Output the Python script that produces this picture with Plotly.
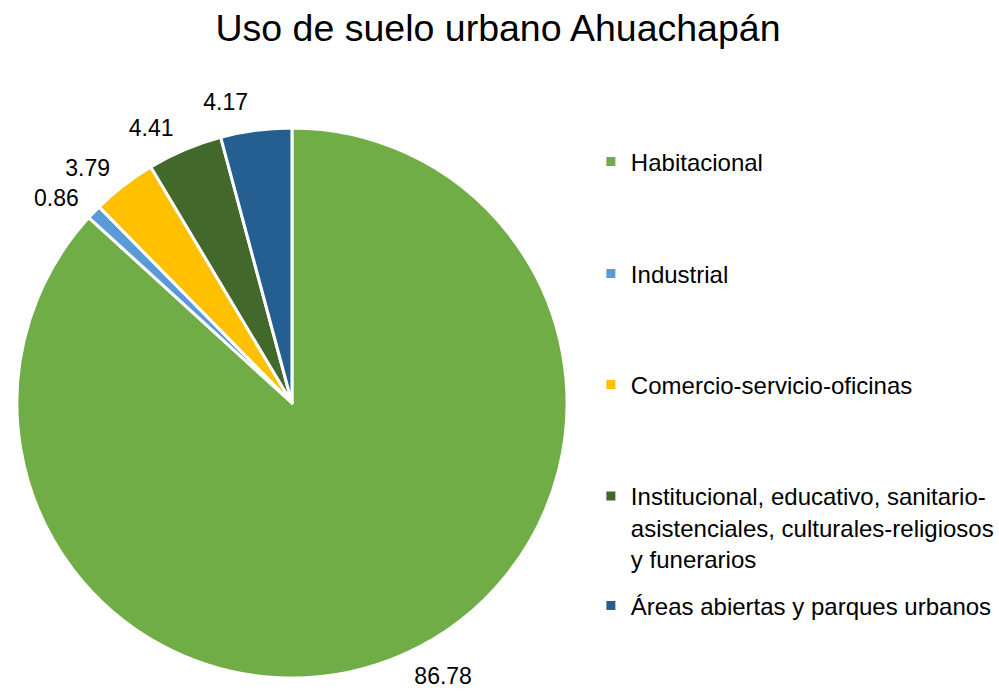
import plotly.graph_objects as go

title_text = "Uso de suelo urbano Ahuachapán"
categories = [
    "Habitacional",
    "Industrial",
    "Comercio-servicio-oficinas",
    "Institucional, educativo, sanitario-asistenciales, culturales-religiosos y funerarios",
    "Áreas abiertas y parques urbanos",
]
legend_labels = [
    "Habitacional",
    "Industrial",
    "Comercio-servicio-oficinas",
    "Institucional, educativo, sanitario-<br>asistenciales, culturales-religiosos<br>y funerarios",
    "Áreas abiertas y parques urbanos",
]
values = [86.78, 0.86, 3.79, 4.41, 4.17]
colors = ["#70AD47", "#5B9BD5", "#FFC000", "#43682B", "#255E91"]

W, H = 999, 700
FONT = "Liberation Sans, Arial, sans-serif"
CX, CY, R = 289, 403, 277      # pie centre / radius in pixels
RL = 289                       # radius of the (invisible) label ring

fig = go.Figure()
# visible pie
fig.add_trace(go.Pie(
    labels=categories,
    values=values,
    sort=False,
    direction="clockwise",
    rotation=0,
    marker=dict(colors=colors, line=dict(color="white", width=3)),
    textinfo="none",
    showlegend=False,
    domain=dict(x=[(CX - R) / W, (CX + R) / W],
                y=[(H - CY - R) / H, (H - CY + R) / H]),
))
# same data, transparent, slightly larger: carries the outside value labels
fig.add_trace(go.Pie(
    labels=categories,
    values=values,
    sort=False,
    direction="clockwise",
    rotation=0,
    marker=dict(colors=["rgba(0,0,0,0)"] * len(values), line=dict(width=0)),
    textposition="outside",
    texttemplate="<span style='color:black;fill-opacity:1'>%{value}</span>",
    outsidetextfont=dict(size=23, color="rgba(0,0,0,0)", family=FONT),
    hoverinfo="skip",
    showlegend=False,
    domain=dict(x=[(CX - RL) / W, (CX + RL) / W],
                y=[(H - CY - RL) / H, (H - CY + RL) / H]),
))

# legend entries (one legend per category to reproduce the spaced layout)
legend_centers = [162, 274, 385, 494, 606]
legend_left = 590
layout_legends = {}
for i, (lab, col) in enumerate(zip(legend_labels, colors)):
    lname = "legend" if i == 0 else f"legend{i+1}"
    fig.add_trace(go.Scatter(
        x=[None], y=[None], mode="markers", name=lab,
        marker=dict(symbol="square", size=9, color=col),
        legend=lname, showlegend=True, hoverinfo="skip",
    ))
    common = dict(x=legend_left / W, xanchor="left",
                  font=dict(size=24, color="black", family=FONT),
                  bgcolor="rgba(0,0,0,0)")
    if i == 3:
        layout_legends[lname] = dict(y=1 - (legend_centers[i] - 20) / H, yanchor="top",
                                     valign="top", **common)
    else:
        layout_legends[lname] = dict(y=1 - legend_centers[i] / H, yanchor="middle", **common)

fig.update_layout(
    width=W, height=H,
    margin=dict(l=0, r=0, t=0, b=0),
    paper_bgcolor="white", plot_bgcolor="white",
    hovermode=False,
    title=dict(text=title_text, x=498 / W, xanchor="center", y=1 - 28 / H, yanchor="middle",
               font=dict(size=37.5, color="black", family=FONT)),
    xaxis=dict(visible=False), yaxis=dict(visible=False),
    **layout_legends,
)

fig.write_html("out.html", config={"displayModeBar": False},
               post_script="document.body.style.margin='0px';")
